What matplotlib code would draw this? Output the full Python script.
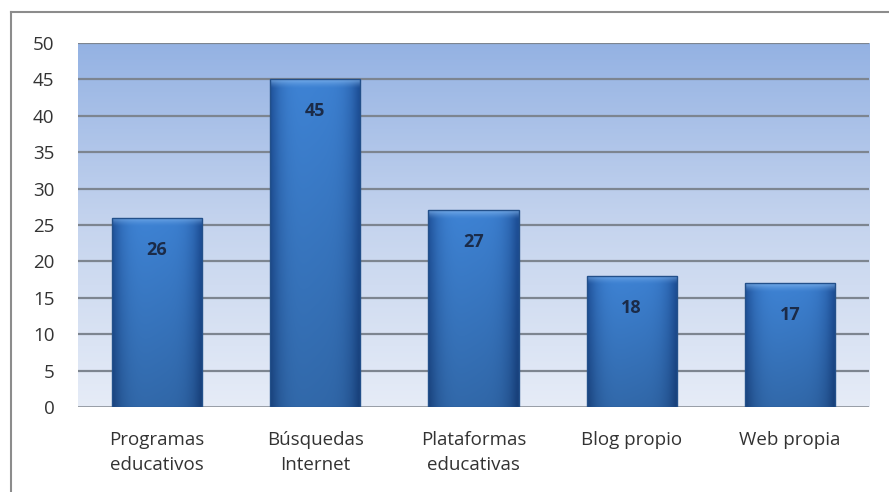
import numpy as np
import matplotlib.pyplot as plt
from matplotlib.lines import Line2D
from matplotlib.colors import LinearSegmentedColormap

categories = ["Programas\neducativos", "Búsquedas\nInternet", "Plataformas\neducativas",
              "Blog propio", "Web propia"]
values = [26, 45, 27, 18, 17]
y_ticks = [0, 5, 10, 15, 20, 25, 30, 35, 40, 45, 50]

plt.rcParams['font.family'] = ['Open Sans', 'DejaVu Sans']

fig = plt.figure(figsize=(8.89, 4.92), dpi=100)
ax = fig.add_axes([0.0877, 0.1728, 0.8898, 0.7398])

n = len(values)
ax.set_xlim(-0.5, n - 0.5)
ax.set_ylim(0, 50)

# plot area background: light at bottom, darker blue at top
bg = LinearSegmentedColormap.from_list("bg", ["#e6ecf7", "#c5d4ee", "#94b2e3"])
grad = np.linspace(0, 1, 256).reshape(-1, 1)
ax.imshow(grad, cmap=bg, origin="lower", aspect="auto",
          extent=[-0.5, n - 0.5, 0, 50], zorder=0)

for t in y_ticks[1:]:
    ax.axhline(t, color="#7d8590", lw=1.6, zorder=1)
ax.axhline(0, color="#8a9099", lw=1.2, zorder=1)

width = 0.57
px_per_unit = ax.bbox.height / 50

center = np.array([64, 134, 216]) / 255
edge = np.array([30, 80, 152]) / 255
top_col = np.array([135, 185, 240]) / 255

for i, v in enumerate(values):
    x0 = i - width / 2
    bar = ax.bar(i, v, width=width, color="none", edgecolor="#23508a", lw=1.0, zorder=3)[0]
    nx, ny = 80, 400
    tx = np.linspace(0, 1, nx)
    ty = np.linspace(0, 1, ny).reshape(-1, 1)
    s = np.clip(np.abs(2 * tx - 1) ** 4 + 0.15 * tx, 0, 1).reshape(1, -1, 1)
    img = center * (1 - s) + edge * s
    img = np.repeat(img, ny, axis=0)
    # darker toward the base
    shade = (0.80 + 0.20 * ty).reshape(ny, 1, 1)
    img = img * shade
    # bevelled top: fades from light at the top edge into the body
    strip = 9 / px_per_unit / v
    w_top = np.clip((ty - (1 - strip)) / strip, 0, 1) ** 1.5
    w_top = w_top.reshape(ny, 1, 1) * 0.75
    img = img * (1 - w_top) + top_col * w_top
    im = ax.imshow(img, origin="lower", aspect="auto",
                   extent=[x0, x0 + width, 0, v], zorder=2)
    im.set_clip_path(bar)
    ax.annotate(str(v), (i, v), xytext=(0, -23), textcoords="offset points",
                ha="center", va="center", fontsize=13, fontweight="bold",
                color="#1b2b48", zorder=4)

ax.set_xticks(range(n))
ax.set_xticklabels(categories, fontsize=13.5, color="#333333", linespacing=1.5)
ax.set_yticks(y_ticks)
ax.tick_params(axis="y", labelsize=13.5, labelcolor="#333333", length=0, pad=17)
ax.tick_params(axis="x", length=0, pad=17)
for sp in ax.spines.values():
    sp.set_visible(False)

# outer frame, top and left edges
fig.add_artist(Line2D([11 / 889, 1], [1 - 12 / 492] * 2, color="#8c8c8c", lw=1.5,
                      transform=fig.transFigure))
fig.add_artist(Line2D([11 / 889] * 2, [0, 1 - 12 / 492], color="#8c8c8c", lw=1.5,
                      transform=fig.transFigure))

fig.savefig("out.png", dpi=100)
